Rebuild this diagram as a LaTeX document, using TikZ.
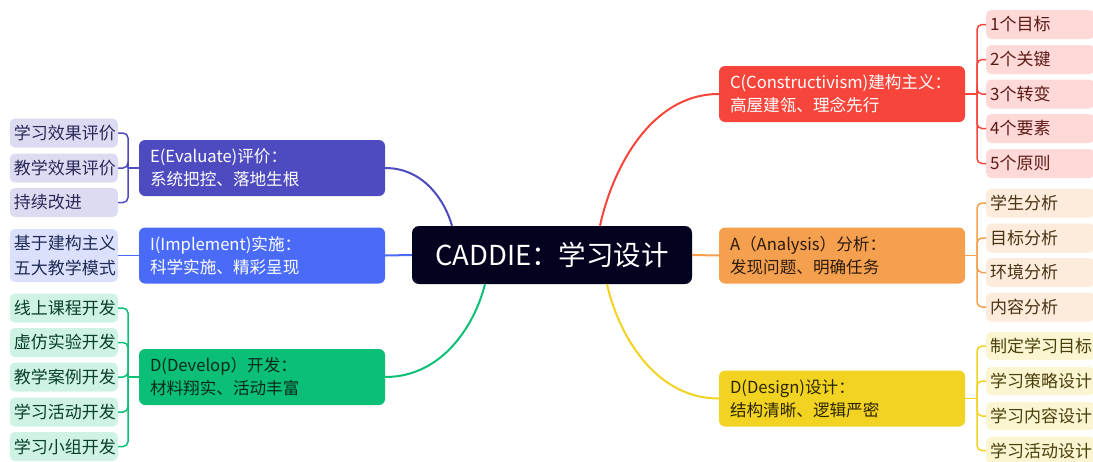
\documentclass[tikz,border=0pt]{standalone}
\usepackage{fontspec}
\setmainfont{Noto Sans CJK SC}
\definecolor{core}{HTML}{03021F}
\definecolor{cRed}{HTML}{F8453B}
\definecolor{cRedL}{HTML}{FED9D7}
\definecolor{cRedT}{HTML}{5C1A16}
\definecolor{cOra}{HTML}{F5A04F}
\definecolor{cOraL}{HTML}{FDEBDB}
\definecolor{cOraT}{HTML}{4A3214}
\definecolor{cOraD}{HTML}{2A1B0B}
\definecolor{cYel}{HTML}{F2D322}
\definecolor{cYelL}{HTML}{FCF5D2}
\definecolor{cYelT}{HTML}{4A3F0A}
\definecolor{cYelD}{HTML}{2B2500}
\definecolor{cPur}{HTML}{4E4BC0}
\definecolor{cPurL}{HTML}{DCDBF2}
\definecolor{cPurT}{HTML}{2A2957}
\definecolor{cBlu}{HTML}{4A6BF8}
\definecolor{cBluL}{HTML}{DBE1FD}
\definecolor{cBluT}{HTML}{1F2A56}
\definecolor{cGrn}{HTML}{0BBF77}
\definecolor{cGrnL}{HTML}{CEF2E3}
\definecolor{cGrnT}{HTML}{0A4029}
\definecolor{cGrnD}{HTML}{042A1A}
\begin{document}
\begin{tikzpicture}[x=1pt,y=-1pt,
  branch/.style={rectangle, rounded corners=6pt, minimum width=246pt, minimum height=56pt,
    text width=224pt, inner xsep=11pt, align=left, font=\fontsize{16.6}{23}\selectfont},
  leaf/.style={rectangle, rounded corners=5pt, minimum height=29pt, inner xsep=4pt,
    text width=100pt, align=left, font=\fontsize{17}{25}\selectfont},
  link/.style={line width=2pt},
  tick/.style={line width=1.5pt, rounded corners=5pt}]
\useasboundingbox (0,0) rectangle (1093,461);

% root topic
\node[fill=core, rounded corners=7pt, minimum width=280pt, minimum height=58pt,
  text=white, font=\fontsize{27.5}{30}\selectfont] (root) at (552,255) {CADDIE：学习设计};

% main branches
\node[branch, fill=cRed, text=white] (C) at (842,94) {C(Constructivism)建构主义：\\高屋建瓴、理念先行};
\node[branch, fill=cOra, text=cOraD] (A) at (842,255.5) {A（Analysis）分析：\\发现问题、明确任务};
\node[branch, fill=cYel, text=cYelD] (D) at (842,398.5) {D(Design)设计：\\结构清晰、逻辑严密};
\node[branch, fill=cPur, text=white] (E) at (262,168) {E(Evaluate)评价：\\系统把控、落地生根};
\node[branch, fill=cBlu, text=white] (I) at (262,255.5) {I(Implement)实施：\\科学实施、精彩呈现};
\node[branch, fill=cGrn, text=cGrnD] (V) at (262,377) {D(Develop）开发：\\材料翔实、活动丰富};

% links from the root
\draw[link, cRed] ([xshift=48pt]root.north) .. controls (612,170) and (650,94) .. (C.west);
\draw[link, cOra] (root.east) -- (A.west);
\draw[link, cYel] ([xshift=55pt]root.south) .. controls (618,333) and (654,398.5) .. (D.west);
\draw[link, cPur] ([xshift=-100pt]root.north) .. controls (445,201) and (424,168) .. (E.east);
\draw[link, cBlu] (root.west) -- (I.east);
\draw[link, cGrn] ([xshift=-67pt]root.south) .. controls (475,324) and (443,377) .. (V.east);

% C leaves
\foreach \n/\y/\t in {c1/24.5/1个目标, c2/59.5/2个关键, c3/94/3个转变, c4/128.5/4个要素, c5/163.5/5个原则}
  \node[leaf, fill=cRedL, text=cRedT, anchor=west] (\n) at (986,\y) {\t};
\coordinate (cJ) at (977,94);
\draw[tick, cRed] (C.east) -- (cJ);
\foreach \n in {c1,c2,c3,c4,c5} \draw[tick, cRed] (cJ) |- (\n.west);

% A leaves
\foreach \n/\y/\t in {a1/203/学生分析, a2/238/目标分析, a3/272.5/环境分析, a4/307/内容分析}
  \node[leaf, fill=cOraL, text=cOraT, anchor=west] (\n) at (986,\y) {\t};
\coordinate (aJ) at (977,255.5);
\draw[tick, cOra] (A.east) -- (aJ);
\foreach \n in {a1,a2,a3,a4} \draw[tick, cOra] (aJ) |- (\n.west);

% D(Design) leaves
\foreach \n/\y/\t in {d1/346/制定学习目标, d2/381/学习策略设计, d3/416/学习内容设计, d4/450.5/学习活动设计}
  \node[leaf, fill=cYelL, text=cYelT, anchor=west, minimum height=28pt] (\n) at (986,\y) {\t};
\coordinate (dJ) at (977,398.5);
\draw[tick, cYel] (D.east) -- (dJ);
\foreach \n in {d1,d2,d3,d4} \draw[tick, cYel] (dJ) |- (\n.west);

% E leaves
\foreach \n/\y/\t in {e1/133/学习效果评价, e2/168/教学效果评价, e3/202.5/持续改进}
  \node[leaf, fill=cPurL, text=cPurT, anchor=east] (\n) at (118,\y) {\t};
\coordinate (eJ) at (128,168);
\draw[tick, cPur] (E.west) -- (eJ);
\foreach \n in {e1,e2,e3} \draw[tick, cPur] (eJ) |- (\n.east);

% I leaf
\node[leaf, fill=cBluL, text=cBluT, anchor=east, minimum height=53pt] (i1) at (118,255.5) {基于建构主义\\五大教学模式};
\draw[tick, cBlu] (I.west) -- (i1.east);

% D(Develop) leaves
\foreach \n/\y/\t in {v1/308/线上课程开发, v2/342.5/虚仿实验开发, v3/377/教学案例开发, v4/412/学习活动开发, v5/446.5/学习小组开发}
  \node[leaf, fill=cGrnL, text=cGrnT, anchor=east] (\n) at (118,\y) {\t};
\coordinate (vJ) at (128,377);
\draw[tick, cGrn] (V.west) -- (vJ);
\foreach \n in {v1,v2,v3,v4,v5} \draw[tick, cGrn] (vJ) |- (\n.east);
\end{tikzpicture}
\end{document}
